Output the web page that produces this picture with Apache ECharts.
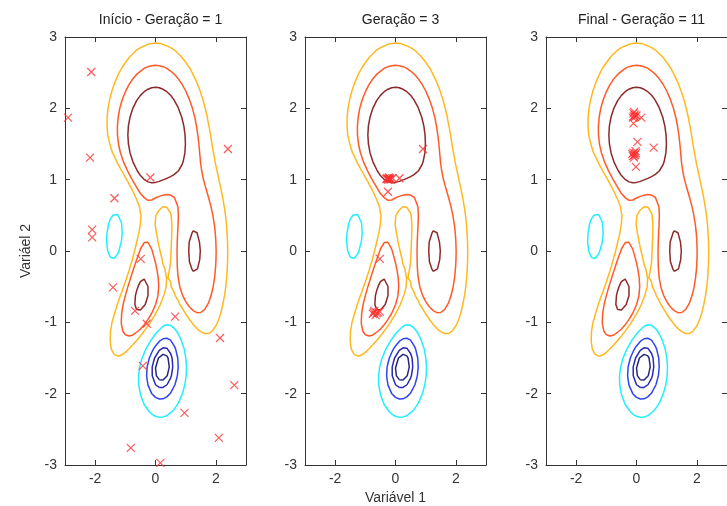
<!DOCTYPE html>
<html>
<head>
    <meta charset="utf-8">
    <title>Geração</title>
    <script src="https://cdn.jsdelivr.net/npm/echarts@6/dist/echarts.min.js"></script>
    <style>
        html, body { margin: 0; padding: 0; background: #fff; }
        #chart { width: 727px; height: 506px; }
    </style>
</head>
<body>
<div id="chart"></div>
<script type="text/javascript">
    // titulos dos paineis
    var titles = ['Início - Geração = 1', 'Geração = 3', 'Final - Geração = 11'];
    var tickX = [-2, 0, 2];

    // niveis das curvas de contorno e cores
    var levels = [-6.05, -5.5, -4.4, -2.6, 0.44, 1.38, 3.3];
    var levelColors = ['#262680', '#2a2ab4', '#2e46f0', '#22eeff', '#ffb820', '#ff5a28', '#8c2a2a'];

    // populacao em cada geracao
    var gen1X = [-2.13, -2.9, -2.17, 2.40, -0.17, -1.36, -2.10, -2.10, -0.49, -1.41, -0.68, -0.29, 0.65, 2.14, -0.42, 2.61, 0.96, 2.10, -0.82, 0.16];
    var gen1Y = [2.51, 1.87, 1.31, 1.43, 1.03, 0.74, 0.30, 0.19, -0.11, -0.51, -0.84, -1.02, -0.92, -1.22, -1.61, -1.88, -2.27, -2.62, -2.76, -2.97];
    var gen3X = [-0.26, -0.22, -0.18, -0.10, 0.13, 0.91, -0.25, -0.52, -0.75, -0.70, -0.66, -0.58, -0.52, -0.24, -0.20, -0.28, -0.72, -0.62, -0.16, -0.30];
    var gen3Y = [1.01, 1.03, 1.02, 1.02, 1.02, 1.43, 0.83, -0.11, -0.88, -0.84, -0.90, -0.86, -0.85, 1.00, 1.01, 1.02, -0.86, -0.87, 1.00, 1.01];
    var gen11X = [-0.10, -0.05, -0.12, 0.00, -0.08, 0.16, -0.10, 0.03, 0.57, -0.10, -0.05, -0.12, -0.03, -0.08, -0.02, -0.06, -0.14, -0.02, -0.09, -0.07];
    var gen11Y = [1.93, 1.88, 1.87, 1.90, 1.95, 1.87, 1.79, 1.53, 1.45, 1.38, 1.35, 1.33, 1.40, 1.31, 1.18, 1.91, 1.36, 1.37, 1.89, 1.34];

    var popX = [gen1X, gen3X, gen11X];
    var popY = [gen1Y, gen3Y, gen11Y];

    // funcao peaks (malha 49x49, como no matlab)
    function peaks(x, y) {
        return 3 * (1 - x) * (1 - x) * Math.exp(-x * x - (y + 1) * (y + 1))
            - 10 * (x / 5 - x * x * x - Math.pow(y, 5)) * Math.exp(-x * x - y * y)
            - Math.exp(-(x + 1) * (x + 1) - y * y) / 3;
    }
    var n = 49;
    var xs = [], Z = [];
    for (var i = 0; i < n; i++) xs.push(-3 + i * 6 / (n - 1));
    for (var j = 0; j < n; j++) {
        var row = [];
        for (var i = 0; i < n; i++) row.push(peaks(xs[i], xs[j]));
        Z.push(row);
    }

    function contourLines(level) {
        var segs = [];
        function cr(a, b) { return (a >= level) !== (b >= level); }
        function ip(xa, ya, za, xb, yb, zb) {
            var t = (level - za) / (zb - za);
            return [xa + t * (xb - xa), ya + t * (yb - ya)];
        }
        for (var j = 0; j < n - 1; j++) {
            for (var i = 0; i < n - 1; i++) {
                var z00 = Z[j][i], z10 = Z[j][i + 1], z01 = Z[j + 1][i], z11 = Z[j + 1][i + 1];
                var e = {}, cnt = 0;
                if (cr(z00, z10)) { e.b = { k: 'h' + i + '_' + j, p: ip(xs[i], xs[j], z00, xs[i + 1], xs[j], z10) }; cnt++; }
                if (cr(z10, z11)) { e.r = { k: 'v' + (i + 1) + '_' + j, p: ip(xs[i + 1], xs[j], z10, xs[i + 1], xs[j + 1], z11) }; cnt++; }
                if (cr(z01, z11)) { e.t = { k: 'h' + i + '_' + (j + 1), p: ip(xs[i], xs[j + 1], z01, xs[i + 1], xs[j + 1], z11) }; cnt++; }
                if (cr(z00, z01)) { e.l = { k: 'v' + i + '_' + j, p: ip(xs[i], xs[j], z00, xs[i], xs[j + 1], z01) }; cnt++; }
                if (cnt === 2) {
                    var arr = [];
                    ['b', 'r', 't', 'l'].forEach(function (s) { if (e[s]) arr.push(e[s]); });
                    segs.push(arr);
                } else if (cnt === 4) {
                    var c = (z00 + z10 + z01 + z11) / 4;
                    if ((c >= level) === (z00 >= level)) {
                        segs.push([e.b, e.r]); segs.push([e.t, e.l]);
                    } else {
                        segs.push([e.b, e.l]); segs.push([e.r, e.t]);
                    }
                }
            }
        }
        // juntar segmentos em polilinhas
        var map = {};
        segs.forEach(function (s, idx) {
            (map[s[0].k] = map[s[0].k] || []).push(idx);
            (map[s[1].k] = map[s[1].k] || []).push(idx);
        });
        var used = [];
        var lines = [];
        function next(key) {
            var l = map[key] || [];
            for (var q = 0; q < l.length; q++) if (!used[l[q]]) return l[q];
            return -1;
        }
        for (var s0 = 0; s0 < segs.length; s0++) {
            if (used[s0]) continue;
            used[s0] = true;
            var pts = [segs[s0][0].p, segs[s0][1].p];
            var key = segs[s0][1].k, nx;
            while ((nx = next(key)) >= 0) {
                used[nx] = true;
                var o = segs[nx][0].k === key ? segs[nx][1] : segs[nx][0];
                pts.push(o.p); key = o.k;
            }
            key = segs[s0][0].k;
            while ((nx = next(key)) >= 0) {
                used[nx] = true;
                var o2 = segs[nx][0].k === key ? segs[nx][1] : segs[nx][0];
                pts.unshift(o2.p); key = o2.k;
            }
            lines.push(pts);
        }
        return lines;
    }

    var font = "'Liberation Sans', Arial, sans-serif";
    var axisColor = '#333';
    var panelLeft = [65, 305, 546];
    var panelW = 181, panelTop = 37, panelH = 428;

    var grids = [], xAxes = [], yAxes = [], series = [], titleList = [];
    var allLines = levels.map(function (lv) { return contourLines(lv); });

    for (var k = 0; k < 3; k++) {
        grids.push({ left: panelLeft[k], top: panelTop, width: panelW, height: panelH, outerBoundsMode: 'none', containLabel: false });
        titleList.push({
            text: titles[k], left: panelLeft[k] + panelW / 2, top: 8, textAlign: 'center',
            textStyle: { fontFamily: font, fontSize: 14, fontWeight: 'normal', color: '#222' }
        });
        xAxes.push({
            type: 'value', gridIndex: k, min: -3, max: 3, position: 'bottom',
            axisLine: { onZero: false, lineStyle: { color: axisColor, width: 1 } },
            axisTick: { inside: true, length: 5, customValues: tickX, lineStyle: { color: axisColor } },
            axisLabel: { customValues: tickX, color: axisColor, fontSize: 14, fontFamily: font, margin: 7 },
            splitLine: { show: false },
            name: k === 1 ? 'Variável 1' : '', nameLocation: 'middle', nameGap: 26,
            nameTextStyle: { color: axisColor, fontSize: 14, fontFamily: font }
        });
        xAxes.push({
            type: 'value', gridIndex: k, min: -3, max: 3, position: 'top',
            axisLine: { onZero: false, lineStyle: { color: axisColor, width: 1 } },
            axisTick: { inside: true, length: 5, customValues: tickX, lineStyle: { color: axisColor } },
            axisLabel: { show: false }, splitLine: { show: false }
        });
        yAxes.push({
            type: 'value', gridIndex: k, min: -3, max: 3, interval: 1, position: 'left',
            axisLine: { show: true, onZero: false, lineStyle: { color: axisColor, width: 1 } },
            axisTick: { show: true, inside: true, length: 5, lineStyle: { color: axisColor } },
            axisLabel: { color: axisColor, fontSize: 14, fontFamily: font, margin: 8 },
            splitLine: { show: false },
            name: k === 0 ? 'Variáel 2' : '', nameLocation: 'middle', nameGap: 32, nameRotate: 90,
            nameTextStyle: { color: axisColor, fontSize: 14, fontFamily: font }
        });
        yAxes.push({
            type: 'value', gridIndex: k, min: -3, max: 3, interval: 1, position: 'right',
            axisLine: { show: true, onZero: false, lineStyle: { color: axisColor, width: 1 } },
            axisTick: { show: true, inside: true, length: 5, lineStyle: { color: axisColor } },
            axisLabel: { show: false }, splitLine: { show: false }
        });

        for (var L = 0; L < levels.length; L++) {
            allLines[L].forEach(function (pts) {
                series.push({
                    type: 'line', xAxisIndex: 2 * k, yAxisIndex: 2 * k, data: pts,
                    symbol: 'none', silent: true, z: 2,
                    lineStyle: { color: levelColors[L], width: 1.5 }
                });
            });
        }

        var pop = [];
        for (var p = 0; p < popX[k].length; p++) pop.push([popX[k][p], popY[k][p]]);
        series.push({
            type: 'scatter', xAxisIndex: 2 * k, yAxisIndex: 2 * k, data: pop, z: 5,
            symbol: 'path://M0,0L10,10M10,0L0,10', symbolSize: 8, silent: true,
            itemStyle: { color: 'rgba(0,0,0,0)', borderColor: '#ff3030', borderWidth: 1.2 }
        });
    }

    var myChart = echarts.init(document.getElementById('chart'));
    myChart.setOption({
        animation: false,
        backgroundColor: '#fff',
        title: titleList,
        grid: grids,
        xAxis: xAxes,
        yAxis: yAxes,
        series: series
    });
</script>
</body>
</html>
